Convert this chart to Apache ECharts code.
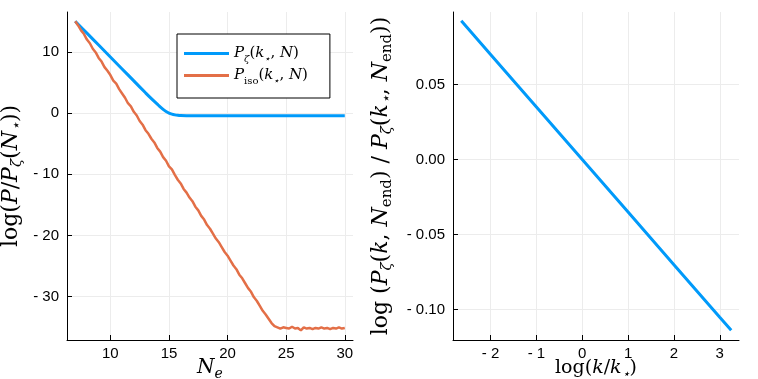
<!DOCTYPE html>
<html>
<head>
<meta charset="utf-8">
<script src="https://cdn.jsdelivr.net/npm/echarts@6/dist/echarts.min.js"></script>
<style>
  html, body { margin: 0; padding: 0; background: #fff; }
  #chart { width: 758px; height: 379px; }
</style>
</head>
<body>
<div id="chart"></div>
<script>
  // left panel: P_zeta(k*, N)
  const neZeta = [7, 8, 9, 10, 11, 12, 13, 13.5, 14, 14.25, 14.5, 14.75, 15, 15.25, 15.5, 15.75, 16, 16.5, 17, 18, 20, 22, 24, 26, 28, 30]
  const pZeta = [15, 13.05, 11.1, 9.15, 7.2, 5.25, 3.3, 2.35, 1.45, 1.0, 0.6, 0.25, 0.0, -0.18, -0.3, -0.38, -0.42, -0.45, -0.46, -0.46, -0.46, -0.46, -0.46, -0.46, -0.46, -0.46]

  // left panel: P_iso(k*, N), step 0.25 from N = 7
  const neIso = [
    7, 7.25, 7.5, 7.75, 8, 8.25, 8.5, 8.75, 9, 9.25, 9.5, 9.75,
    10, 10.25, 10.5, 10.75, 11, 11.25, 11.5, 11.75, 12, 12.25, 12.5, 12.75,
    13, 13.25, 13.5, 13.75, 14, 14.25, 14.5, 14.75, 15, 15.25, 15.5, 15.75,
    16, 16.25, 16.5, 16.75, 17, 17.25, 17.5, 17.75, 18, 18.25, 18.5, 18.75,
    19, 19.25, 19.5, 19.75, 20, 20.25, 20.5, 20.75, 21, 21.25, 21.5, 21.75,
    22, 22.25, 22.5, 22.75, 23, 23.25, 23.5, 23.75, 24, 24.25, 24.5, 24.75,
    25, 25.25, 25.5, 25.75, 26, 26.25, 26.5, 26.75, 27, 27.25, 27.5, 27.75,
    28, 28.25, 28.5, 28.75, 29, 29.25, 29.5, 29.75, 30
  ]
  const pIso = [
    15.0, 14.3, 13.5, 12.9, 12.0, 11.4, 10.5, 9.9, 9.0, 8.4, 7.5, 6.9,
    6.2, 5.3, 4.8, 3.9, 3.2, 2.5, 1.6, 1.1, 0.2, -0.4, -1.3, -1.9,
    -2.8, -3.4, -4.2, -4.8, -5.7, -6.3, -7.2, -7.8, -8.7, -9.2, -10.1, -10.9,
    -11.5, -12.4, -13.0, -13.8, -14.4, -15.3, -15.9, -16.8, -17.4, -18.3, -18.9, -19.7,
    -20.5, -21.1, -21.9, -22.7, -23.3, -24.1, -24.9, -25.5, -26.4, -27.0, -27.8, -28.6,
    -29.2, -30.1, -30.7, -31.5, -32.3, -32.9, -33.6, -34.3, -34.8, -35.0, -35.2, -35.0,
    -35.1, -35.2, -34.9, -35.2, -35.1, -35.5, -35.0, -35.2, -35.1, -35.3, -35.1, -35.2,
    -35.0, -35.2, -35.1, -35.3, -35.1, -35.2, -35.0, -35.2, -35.1
  ]

  // right panel
  const logK = [-2.64, -2, -1, 0, 1, 2, 3, 3.25]
  const pRatio = [0.0924, 0.070, 0.035, 0.0, -0.035, -0.070, -0.105, -0.1137]

  // tick labels
  const leftXTicks = [10, 15, 20, 25, 30]
  const leftYTicks = [-30, -20, -10, 0, 10]
  const rightXTicks = [-2, -1, 0, 1, 2, 3]
  const rightYTicks = [-0.1, -0.05, 0, 0.05]

  const serif = 'DejaVu Serif'
  const sans = 'Liberation Sans'
  const blue = '#009afa'
  const orange = '#e36f47'

  // math-like rich text styles, subscripts pushed just below the baseline
  function mathRich (size) {
    const sub = Math.round(size * 0.68)
    const lh = size + 6
    return {
      i: { fontFamily: serif, fontStyle: 'italic', fontSize: size, lineHeight: lh, color: '#000' },
      r: { fontFamily: serif, fontSize: size, lineHeight: lh, color: '#000' },
      s: { fontFamily: serif, fontStyle: 'italic', fontSize: sub, lineHeight: lh - 4, verticalAlign: 'bottom', color: '#000' },
      sr: { fontFamily: serif, fontSize: sub, lineHeight: lh - 4, verticalAlign: 'bottom', color: '#000' }
    }
  }

  function tickFmt (dec) {
    return v => {
      const s = dec ? Math.abs(v).toFixed(dec) : String(Math.abs(v))
      return v < -1e-9 ? '- ' + s : s
    }
  }

  const axisLine = { show: true, onZero: false, lineStyle: { color: '#000', width: 1 } }
  const axisTick = (vals) => ({ inside: true, length: 5, lineStyle: { color: '#000' }, customValues: vals })
  const splitLine = { show: true, lineStyle: { color: '#ececec', width: 1 } }
  const labelStyle = { fontFamily: sans, fontSize: 15, color: '#000' }

  const chart = echarts.init(document.getElementById('chart'), null, { renderer: 'canvas' })
  chart.setOption({
    animation: false,
    grid: [
      { left: 67, top: 12, width: 286, height: 328, outerBoundsMode: 'none' },
      { left: 453, top: 12, width: 286, height: 328, outerBoundsMode: 'none' }
    ],
    legend: {
      data: ['zeta', 'iso'],
      orient: 'vertical',
      left: 177,
      top: 34,
      icon: 'rect',
      itemWidth: 45,
      itemHeight: 3,
      itemGap: 4,
      itemTextGap: 8,
      padding: [12, 22, 12, 7],
      borderColor: '#000',
      borderWidth: 1,
      backgroundColor: '#fff',
      formatter: name => name === 'zeta'
        ? '{i|P}{s|ζ}{r|(}{i|k}{s|⋆}{r|, }{i|N}{r|)}'
        : '{i|P}{sr|iso}{r|(}{i|k}{s|⋆}{r|, }{i|N}{r|)}',
      textStyle: { rich: mathRich(15) }
    },
    xAxis: [
      {
        gridIndex: 0, type: 'value', min: 6.3, max: 30.7,
        axisLine: axisLine, axisTick: axisTick(leftXTicks), splitLine: splitLine,
        axisLabel: Object.assign({ customValues: leftXTicks, formatter: tickFmt(0), margin: 6 }, labelStyle),
        name: '{i|N}{s|e}', nameLocation: 'middle', nameGap: 15, nameMoveOverlap: false,
        nameTextStyle: { rich: mathRich(20) }
      },
      {
        gridIndex: 1, type: 'value', min: -2.82, max: 3.42,
        axisLine: axisLine, axisTick: axisTick(rightXTicks), splitLine: splitLine,
        axisLabel: Object.assign({ customValues: rightXTicks, formatter: tickFmt(0), margin: 6 }, labelStyle),
        name: '{r|log(}{i|k}{r|/}{i|k}{s|⋆}{r|)}', nameLocation: 'middle', nameGap: 16, nameMoveOverlap: false,
        nameTextStyle: { rich: mathRich(19) }
      }
    ],
    yAxis: [
      {
        gridIndex: 0, type: 'value', min: -37.07, max: 16.5,
        axisLine: axisLine, axisTick: axisTick(leftYTicks), splitLine: splitLine,
        axisLabel: Object.assign({ customValues: leftYTicks, formatter: tickFmt(0), margin: 8 }, labelStyle),
        name: '{r|log(}{i|P}{r|/}{i|P}{s|ζ}{r|(}{i|N}{s|⋆}{r|))}', nameLocation: 'middle', nameRotate: 90,
        nameGap: 42, nameMoveOverlap: false,
        nameTextStyle: { rich: mathRich(22) }
      },
      {
        gridIndex: 1, type: 'value', min: -0.1202, max: 0.0983,
        axisLine: axisLine, axisTick: axisTick(rightYTicks), splitLine: splitLine,
        axisLabel: Object.assign({ customValues: rightYTicks, formatter: tickFmt(2), margin: 8 }, labelStyle),
        name: '{r|log (}{i|P}{s|ζ}{r|(}{i|k}{r|, }{i|N}{sr|end}{r|) / }{i|P}{s|ζ}{r|(}{i|k}{s|⋆}{r|, }{i|N}{sr|end}{r|))}',
        nameLocation: 'middle', nameRotate: 90, nameGap: 58, nameMoveOverlap: false,
        nameTextStyle: { rich: mathRich(22) }
      }
    ],
    series: [
      {
        name: 'zeta', type: 'line', xAxisIndex: 0, yAxisIndex: 0,
        data: neZeta.map((n, i) => [n, pZeta[i]]),
        showSymbol: false, smooth: 0.3, color: blue,
        lineStyle: { color: blue, width: 3 }
      },
      {
        name: 'iso', type: 'line', xAxisIndex: 0, yAxisIndex: 0,
        data: neIso.map((n, i) => [n, pIso[i]]),
        showSymbol: false, color: orange,
        lineStyle: { color: orange, width: 2.5 }
      },
      {
        name: 'ratio', type: 'line', xAxisIndex: 1, yAxisIndex: 1,
        data: logK.map((k, i) => [k, pRatio[i]]),
        showSymbol: false, color: blue,
        lineStyle: { color: blue, width: 3 }
      }
    ]
  })
</script>
</body>
</html>
